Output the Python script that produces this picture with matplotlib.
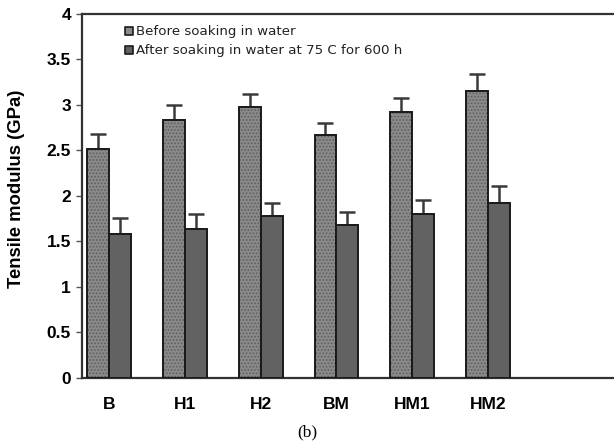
import numpy as np
import matplotlib.pyplot as plt

samples = ['B', 'H1', 'H2', 'BM', 'HM1', 'HM2']
before = [2.52, 2.84, 2.98, 2.67, 2.92, 3.15]
before_err = [0.16, 0.155, 0.14, 0.13, 0.16, 0.19]
after = [1.58, 1.64, 1.78, 1.68, 1.80, 1.92]
after_err = [0.18, 0.16, 0.14, 0.14, 0.16, 0.185]

plt.rcParams['hatch.linewidth'] = 0.8

fig = plt.figure(figsize=(6.14, 4.48), dpi=100)
ax = fig.add_axes([0.1336, 0.1563, 0.8664, 0.8125])

x = np.arange(len(samples))
w = 0.29

# textured bars first, then the outlines on top
ax.bar(x - w / 2, before, w, color='#8a8a8a', edgecolor='#5e5e5e', hatch='.....', linewidth=0, zorder=2)
ax.bar(x - w / 2, before, w, facecolor='none', edgecolor='#1a1a1a', linewidth=1.4, zorder=3)
ax.bar(x + w / 2, after, w, color='#626262', edgecolor='#1a1a1a', linewidth=1.4, zorder=3)

for xs, vals, errs in [(x - w / 2, before, before_err), (x + w / 2, after, after_err)]:
    ax.errorbar(xs, vals, yerr=[np.zeros(len(errs)), errs], fmt='none', ecolor='#3a3a3a',
                elinewidth=1.8, capsize=5.5, capthick=1.8, zorder=1)

# legend entries drawn as small squares with text
ax.scatter([0.26], [3.81], marker='s', s=40, c='#8a8a8a', edgecolors='#1a1a1a', linewidths=1.2, zorder=4)
ax.scatter([0.26], [3.60], marker='s', s=40, c='#626262', edgecolors='#1a1a1a', linewidths=1.2, zorder=4)
ax.text(0.36, 3.81, 'Before soaking in water', fontsize=9.6, va='center', color='#222222')
ax.text(0.36, 3.60, 'After soaking in water at 75 C for 600 h', fontsize=9.6, va='center', color='#222222')

ax.set_xlim(-0.356, 6.66)
ax.set_ylim(0, 4)
ax.set_yticks([0, 0.5, 1, 1.5, 2, 2.5, 3, 3.5, 4])
ax.set_yticklabels(['0', '0.5', '1', '1.5', '2', '2.5', '3', '3.5', '4'],
                   fontsize=12.5, fontweight='bold', family='Liberation Sans')
ax.set_xticks(x)
ax.set_xticklabels(samples, fontsize=12.5, fontweight='bold', family='Liberation Sans')
ax.tick_params(axis='x', length=0, pad=14)
ax.tick_params(axis='y', length=4, width=1, color='#555555', pad=4)

ax.set_ylabel('Tensile modulus (GPa)', fontsize=13.3, fontweight='bold', family='Liberation Sans')
ax.yaxis.set_label_coords(-0.107, 0.52)

ax.spines['right'].set_visible(False)
for s in ['left', 'bottom', 'top']:
    ax.spines[s].set_color('#333333')
    ax.spines[s].set_linewidth(1.6)

fig.text(0.5, 0.035, '(b)', ha='center', va='center', fontsize=12.5, family='Liberation Serif')

fig.savefig('out.png', dpi=100)
